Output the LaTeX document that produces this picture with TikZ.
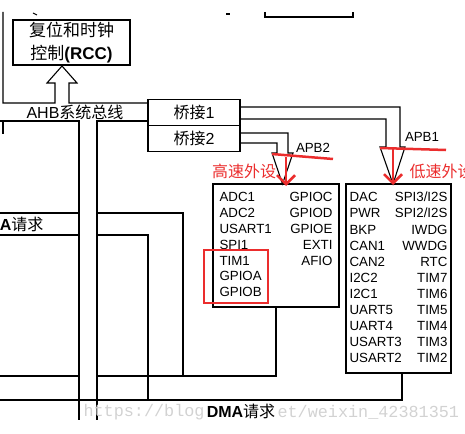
\documentclass[tikz,border=0pt]{standalone}
\usepackage{fontspec}
\setmainfont{Liberation Sans}
\setmonofont{Liberation Mono}
\newfontfamily\cjk{Noto Sans CJK SC}
\usetikzlibrary{positioning, arrows.meta}
\definecolor{hlred}{RGB}{235,45,45}

\begin{document}
\begin{tikzpicture}[
    x=1pt, y=-1pt,
    line width=1.1pt,
    unit/.style={draw, line width=1.8pt, inner sep=0pt},
    bridge/.style={draw, line width=1.1pt, minimum width=92pt, minimum height=26pt, inner sep=0pt, font=\fontsize{16}{18}\selectfont},
    periph/.style={inner sep=0pt, text height=9.6pt, text depth=0pt, font=\fontsize{13.3}{15}\selectfont},
    note/.style={text=hlred, inner sep=0pt, font=\fontsize{16}{18}\selectfont\cjk},
    redline/.style={draw=hlred, line width=2.5pt},
    redarrow/.style={draw=hlred, line width=2.5pt, -{Straight Barb[length=9pt,width=18pt]}},
    wmark/.style={anchor=west, inner sep=0pt, text=gray!35, font=\fontsize{16.8}{18}\ttfamily}
]
    \useasboundingbox (0,0) rectangle (465,433);
    \clip (0,0) rectangle (465,433);

    % Bloques
    \node[unit, minimum width=117pt, minimum height=45pt, align=center, font=\fontsize{17}{22.5}\selectfont] (rcc) at (71.5,42.5) {{\cjk 复位和时钟}\\{\cjk 控制}\textbf{(RCC)}};
    \node[bridge] (br1) at (194,112.5) {{\cjk 桥接}1};
    \node[bridge] (br2) at (194,138.5) {{\cjk 桥接}2};
    \node[unit, minimum width=126pt, minimum height=123pt] (hs) at (276,245.5) {};
    \node[unit, minimum width=105pt, minimum height=189pt] (ls) at (398.5,278.5) {};

    % Periféricos APB2
    \foreach \name [count=\i from 0] in {ADC1,ADC2,USART1,SPI1,TIM1,GPIOA,GPIOB}
        \node[periph, anchor=west] (hsl\i) at (219,197+15.8*\i) {\name};
    \foreach \name [count=\i from 0] in {GPIOC,GPIOD,GPIOE,EXTI,AFIO}
        \node[periph, anchor=east] (hsr\i) at (333,197+15.8*\i) {\name};

    % Periféricos APB1
    \foreach \name [count=\i from 0] in {DAC,PWR,BKP,CAN1,CAN2,I2C2,I2C1,UART5,UART4,USART3,USART2}
        \node[periph, anchor=west] (lsl\i) at (349,197+16.1*\i) {\name};
    \foreach \name [count=\i from 0] in {SPI3/I2S,SPI2/I2S,IWDG,WWDG,RTC,TIM7,TIM6,TIM5,TIM4,TIM3,TIM2}
        \node[periph, anchor=east] (lsr\i) at (448,197+16.1*\i) {\name};

    % Bus AHB
    \draw (3,12) -- (3,103) -- (55,103) -- (55,83) -- (47,83) -- (62,66) -- (77,83) -- (69,83) -- (69,103) -- (148,103);
    \draw (0,121) -- (79,121) -- (79,420);
    \draw (148,121) -- (97,121) -- (97,420);
    \draw (3,122) -- (3,134);
    \node[inner sep=0pt, font=\fontsize{16}{18}\selectfont] (ahb) at (75,112) {AHB{\cjk 系统总线}};

    % Restos arriba
    \draw (265,12) -- (265,17) -- (353,17) -- (353,12);
    \draw (33,13) -- (37,15);
    \draw (226,14) -- (230,14);

    % Bus APB1 y APB2
    \draw ([yshift=5.5pt]br1.east) -- (400,107) -- (400,147) -- (405,147) -- (393,184) -- (380,147) -- (386,147) -- (386,119) -- ([yshift=-6.5pt]br1.east);
    \draw ([yshift=5.5pt]br2.east) -- (288,133) -- (288,153) -- (293,153) -- (282.5,184) -- (272,153) -- (277,153) -- (277,143) -- ([yshift=-4.5pt]br2.east);
    \node[periph] (apb2) at (313,148) {APB2};
    \node[periph] (apb1) at (422,137) {APB1};

    % Lineas DMA
    \draw (0,213) -- (79,213);
    \draw (0,235) -- (79,235);
    \draw (0,376) -- (79,376);
    \draw (97,213) -- (183,213) -- (183,376);
    \draw (97,235) -- (148,235) -- (148,400);
    \draw (97,376) -- (276,376) -- (hs.south);
    \draw[line width=1.4pt] (0,400) -- (402,400) -- (402,373);
    \node[anchor=east, inner sep=0pt, font=\fontsize{16}{18}\selectfont] (dmal) at (44,224) {\textbf{DMA}{\cjk 请求}};

    % Marcas rojas
    \draw[draw=hlred, line width=1.5pt] (204,250) rectangle (268,303);
    \draw[redline] (272,154) -- (333,159);
    \draw[redarrow] (286,157) -- (286,186);
    \draw[redline] (380,148) -- (446,150);
    \draw[redarrow] (393,149) -- (393,185);
    \node[note] (hsnote) at (244,171) {高速外设};
    \node[note, anchor=west] (lsnote) at (409,171) {低速外设};

    % Pie
    \node[wmark] (wm1) at (83,412) {https://blog};
    \node[wmark] (wm2) at (277,412) {et/weixin\_42381351};
    \node[inner sep=0pt, font=\fontsize{16}{18}\selectfont] (dmab) at (241,411) {\textbf{DMA}{\cjk 请求}};
\end{tikzpicture}
\end{document}
